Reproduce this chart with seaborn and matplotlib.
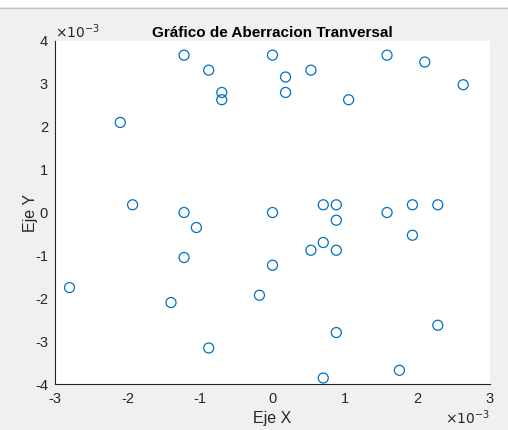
import numpy as np
import pandas as pd
import matplotlib
matplotlib.use("Agg")
import matplotlib.pyplot as plt
import matplotlib.ticker as mticker
import seaborn as sns

# Transverse aberration samples (values in units of 1e-3)
x_vals = [-1.22, -0.88, -0.70, -0.70, -2.10, 0.00, 0.18, 0.18, 0.53, 1.05, 1.58, 2.10, 2.63,
          -1.93, -1.22, 0.00, 0.70, 0.88, 1.58, 1.93, 2.28, -1.05, -1.22, 0.88, 1.93, 0.53,
          0.70, 0.88, 0.00,
          -2.80, -1.40, -0.18, -0.88, 0.88, 2.28, 1.75, 0.70]
y_vals = [3.67, 3.32, 2.80, 2.63, 2.10, 3.67, 3.16, 2.80, 3.32, 2.63, 3.67, 3.51, 2.98,
          0.18, 0.00, 0.00, 0.18, 0.18, 0.00, 0.18, 0.18, -0.35, -1.05, -0.18, -0.53, -0.88,
          -0.70, -0.88, -1.23,
          -1.75, -2.10, -1.93, -3.16, -2.80, -2.63, -3.68, -3.86]
scale = 1e-3
x_ticks = [-3, -2, -1, 0, 1, 2, 3]
y_ticks = [-4, -3, -2, -1, 0, 1, 2, 3, 4]

df = pd.DataFrame({"x": np.array(x_vals) * scale, "y": np.array(y_vals) * scale})

sns.set_style("white")
plt.rcParams["font.family"] = ["Arial", "Liberation Sans", "DejaVu Sans"]

fig = plt.figure(figsize=(5.08, 4.30), dpi=100)
fig.patch.set_facecolor("#f0f0f0")
# light strip and separator line at the top of the window
fig.patches.append(plt.Rectangle((0, 1 - 7 / 430), 1, 7 / 430, transform=fig.transFigure,
                                 facecolor="white", edgecolor="none", zorder=0))
fig.add_artist(plt.Line2D([0, 1], [1 - 8 / 430, 1 - 8 / 430], transform=fig.transFigure,
                          color="#c8c8c8", lw=1.0))

ax = fig.add_axes([55 / 508, 1 - 384 / 430, 435 / 508, 343 / 430])
ax.set_facecolor("white")

sns.scatterplot(data=df, x="x", y="y", ax=ax, marker="o", s=52,
                facecolors="none", edgecolor="#0072BD", linewidth=0.9, legend=False)

ax.set_xlim(-3 * scale, 3 * scale)
ax.set_ylim(-4 * scale, 4 * scale)
ax.set_xticks(np.array(x_ticks) * scale)
ax.set_yticks(np.array(y_ticks) * scale)
fmt = mticker.FuncFormatter(lambda v, p: f"{v / scale:g}")
ax.xaxis.set_major_formatter(fmt)
ax.yaxis.set_major_formatter(fmt)

axis_col = "#262626"
for side in ["top", "right"]:
    ax.spines[side].set_visible(False)
for side in ["bottom", "left"]:
    ax.spines[side].set_color(axis_col)
    ax.spines[side].set_linewidth(0.8)
ax.tick_params(direction="in", length=4, width=0.8, colors=axis_col,
               labelsize=10.5, labelcolor=axis_col)
ax.tick_params(axis="x", pad=6)
ax.tick_params(axis="y", pad=5)

ax.set_title("Gráfico de Aberracion Tranversal", fontsize=11, fontweight="bold",
             color="black", pad=3)
ax.set_xlabel("Eje X", fontsize=11.5, color=axis_col, labelpad=3)
ax.set_ylabel("Eje Y", fontsize=11.5, color=axis_col, labelpad=-2)

# exponent multipliers for both axes
ax.text(0.0, 1.0, r"$\times10^{-3}$", transform=ax.transAxes, ha="left", va="bottom",
        fontsize=10, color=axis_col, math_fontfamily="dejavusans")
ax.text(1.0, -0.072, r"$\times10^{-3}$", transform=ax.transAxes, ha="right", va="top",
        fontsize=10, color=axis_col, math_fontfamily="dejavusans")

fig.savefig("out.png", dpi=100, facecolor=fig.get_facecolor())
